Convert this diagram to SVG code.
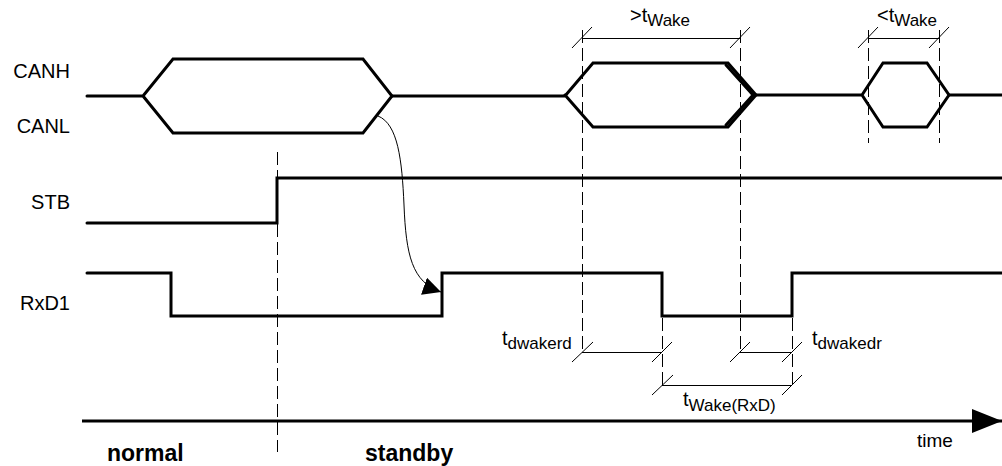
<svg xmlns="http://www.w3.org/2000/svg" width="1002" height="466" viewBox="0 0 1002 466">
<defs>
<style>
.sig{fill:none;stroke:#000;stroke-width:3;stroke-linejoin:miter;stroke-linecap:round}
.dash{fill:none;stroke:#000;stroke-width:1;stroke-dasharray:13,5}
.dim{fill:none;stroke:#000;stroke-width:1}
.lbl{font-family:"Liberation Sans",Arial,sans-serif;font-size:20px;fill:#000}
.tl{font-family:"Liberation Sans",Arial,sans-serif;font-size:20px;fill:#000}
.sub{font-size:17px}
.bold{font-family:"Liberation Sans",Arial,sans-serif;font-size:23px;font-weight:bold;fill:#000}
</style>
<marker id="ah" viewBox="0 0 10 10" refX="10" refY="5" markerWidth="18" markerHeight="18" markerUnits="userSpaceOnUse" orient="auto">
<path d="M0,0 L10,5 L0,10 z" fill="#000"/>
</marker>
<marker id="big" viewBox="0 0 10 10" refX="10" refY="5" markerWidth="30" markerHeight="24" markerUnits="userSpaceOnUse" orient="auto" preserveAspectRatio="none">
<path d="M0,0 L10,5 L0,10 z" fill="#000"/>
</marker>
</defs>

<g id="labels">
<text class="lbl" x="70" y="78" text-anchor="end">CANH</text>
<text class="lbl" x="70" y="133" text-anchor="end">CANL</text>
<text class="lbl" x="70" y="209" text-anchor="end">STB</text>
<text class="lbl" x="70" y="310" text-anchor="end">RxD1</text>
</g>

<g id="can-bus">
<path class="sig" d="M87,96 H143 L173,59 H363 L392,96 L363,133 H173 L143,96"/>
<path class="sig" d="M392,96 H565 L593,63 H728 L756,95 L728,127 H593 L565,95"/>
<path class="sig" d="M726,65 L753,95 L726,125"/>
<path class="sig" d="M756,95 H862 L883,63 H927 L949,95 L927,127 H883 L862,95"/>
<path class="sig" d="M949,95 H1002"/>
</g>

<g id="stb">
<path class="sig" d="M87,223 H277 V178 H1002"/>
</g>

<g id="rxd1">
<path class="sig" d="M87,273 H171 V316 H442 V273 H662 V316 H792 V273 H1002"/>
</g>

<g id="guides">
<line class="dash" x1="277.5" y1="152" x2="277.5" y2="452"/>
<line class="dash" x1="582.5" y1="30" x2="582.5" y2="352"/>
<line class="dash" x1="740.5" y1="30" x2="740.5" y2="352"/>
<line class="dash" x1="868.5" y1="30" x2="868.5" y2="143"/>
<line class="dash" x1="939.5" y1="30" x2="939.5" y2="143"/>
<line class="dash" x1="662.5" y1="318" x2="662.5" y2="385"/>
<line class="dash" x1="792.5" y1="318" x2="792.5" y2="385"/>
</g>

<g id="connectors">
<path class="dim" d="M378,116 C398,124 402,160 404,205 C406,255 412,282 441,292" marker-end="url(#ah)"/>
</g>

<g id="dim-twake-gt">
<line class="dim" x1="582" y1="38.5" x2="740" y2="38.5"/>
<line class="dim" x1="572" y1="48" x2="592" y2="27"/>
<line class="dim" x1="730" y1="48" x2="750" y2="27"/>
<text class="tl" x="630" y="22">&gt;t<tspan class="sub" dy="4">Wake</tspan></text>
</g>

<g id="dim-twake-lt">
<line class="dim" x1="868" y1="38.5" x2="939" y2="38.5"/>
<line class="dim" x1="858" y1="48" x2="878" y2="27"/>
<line class="dim" x1="929" y1="48" x2="949" y2="27"/>
<text class="tl" x="877" y="22">&lt;t<tspan class="sub" dy="4">Wake</tspan></text>
</g>

<g id="dim-tdwakerd">
<line class="dim" x1="582" y1="352.5" x2="662" y2="352.5"/>
<line class="dim" x1="572" y1="362" x2="593" y2="342"/>
<line class="dim" x1="652" y1="362" x2="672" y2="342"/>
<text class="tl" x="502" y="345">t<tspan class="sub" dy="4">dwakerd</tspan></text>
</g>

<g id="dim-tdwakedr">
<line class="dim" x1="740" y1="352.5" x2="792" y2="352.5"/>
<line class="dim" x1="730" y1="362" x2="750" y2="342"/>
<line class="dim" x1="782" y1="362" x2="802" y2="342"/>
<text class="tl" x="812" y="345">t<tspan class="sub" dy="4">dwakedr</tspan></text>
</g>

<g id="dim-twake-rxd">
<line class="dim" x1="662" y1="385.5" x2="792" y2="385.5"/>
<line class="dim" x1="652" y1="395" x2="673" y2="375"/>
<line class="dim" x1="782" y1="395" x2="802" y2="375"/>
<text class="tl" x="683" y="406">t<tspan class="sub" dy="5">Wake(RxD)</tspan></text>
</g>

<g id="time-axis">
<line x1="82" y1="421" x2="1002" y2="421" stroke="#000" stroke-width="3" marker-end="url(#big)"/>
<text class="lbl" x="917" y="447" style="font-size:19px">time</text>
<text class="bold" x="107" y="461">normal</text>
<text class="bold" x="365" y="461">standby</text>
</g>
</svg>
